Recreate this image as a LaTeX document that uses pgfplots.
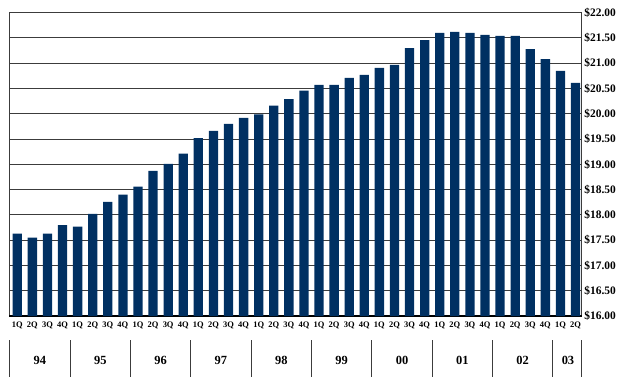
\documentclass[border=0pt]{standalone}
\usepackage{fontspec}
\setmainfont{Liberation Serif}
\usepackage{pgfplots}
\pgfplotsset{compat=1.18}

\definecolor{barnavy}{RGB}{0,48,98}
\definecolor{gridgray}{RGB}{60,60,60}

\begin{document}
\begin{tikzpicture}
\begin{axis}[
  at={(0,0)}, anchor=south west,
  scale only axis,
  width=572.7bp, height=303.3bp,
  xmin=-0.55, xmax=37.41,
  ymin=16, ymax=22,
  ytick={16,16.5,...,22},
  yticklabel pos=right,
  major tick length=0pt,
  /pgf/number format/assume math mode=true,
  yticklabel={\$\pgfmathprintnumber[fixed,fixed zerofill,precision=2,assume math mode=true]{\tick}},
  yticklabel style={font=\fontsize{11.5}{12}\selectfont\bfseries, inner sep=0pt, xshift=2.5bp, anchor=west},
  xtick={0,...,37},
  xticklabels={1Q,2Q,3Q,4Q,1Q,2Q,3Q,4Q,1Q,2Q,3Q,4Q,1Q,2Q,3Q,4Q,1Q,2Q,3Q,4Q,
               1Q,2Q,3Q,4Q,1Q,2Q,3Q,4Q,1Q,2Q,3Q,4Q,1Q,2Q,3Q,4Q,1Q,2Q},
  xticklabel style={font=\fontsize{8.5}{9}\selectfont\bfseries, inner sep=0pt, yshift=-6bp, anchor=north},
  ymajorgrids,
  grid style={gridgray, line width=1pt},
  axis line style={gridgray, line width=1pt},
  extra y ticks={16},
  extra y tick labels={},
  extra y tick style={grid style={black, line width=1.6pt}},
  ybar, bar width=9.3bp,
  clip=false,
]
\addplot[fill=barnavy, draw=none] coordinates {
  (0,17.63) (1,17.55) (2,17.63) (3,17.80)
  (4,17.77) (5,18.02) (6,18.26) (7,18.40)
  (8,18.56) (9,18.87) (10,19.01) (11,19.21)
  (12,19.52) (13,19.66) (14,19.80) (15,19.92)
  (16,19.99) (17,20.16) (18,20.29) (19,20.46)
  (20,20.57) (21,20.57) (22,20.71) (23,20.77)
  (24,20.91) (25,20.97) (26,21.30) (27,21.46)
  (28,21.60) (29,21.62) (30,21.60) (31,21.56)
  (32,21.54) (33,21.54) (34,21.28) (35,21.08)
  (36,20.85) (37,20.61)
};
% year separators below the quarter labels
\pgfplotsinvokeforeach{-0.55,3.5,7.5,11.5,15.5,19.5,23.5,27.5,31.5,35.5,37.41}{
  \draw[gridgray, line width=1pt] ([yshift=-24bp]axis cs:#1,16) -- ([yshift=-61bp]axis cs:#1,16);
}
% year names
\tikzset{yr/.style={font=\fontsize{12.5}{13}\selectfont\bfseries, inner sep=0pt}}
\node[yr] at ([yshift=-44bp]axis cs:1.5,16) {94};
\node[yr] at ([yshift=-44bp]axis cs:5.5,16) {95};
\node[yr] at ([yshift=-44bp]axis cs:9.5,16) {96};
\node[yr] at ([yshift=-44bp]axis cs:13.5,16) {97};
\node[yr] at ([yshift=-44bp]axis cs:17.5,16) {98};
\node[yr] at ([yshift=-44bp]axis cs:21.5,16) {99};
\node[yr] at ([yshift=-44bp]axis cs:25.5,16) {00};
\node[yr] at ([yshift=-44bp]axis cs:29.5,16) {01};
\node[yr] at ([yshift=-44bp]axis cs:33.5,16) {02};
\node[yr] at ([yshift=-44bp]axis cs:36.5,16) {03};
\end{axis}
\pgfresetboundingbox
\path (-9bp,-61bp) rectangle (611bp,316bp);
\end{tikzpicture}
\end{document}
